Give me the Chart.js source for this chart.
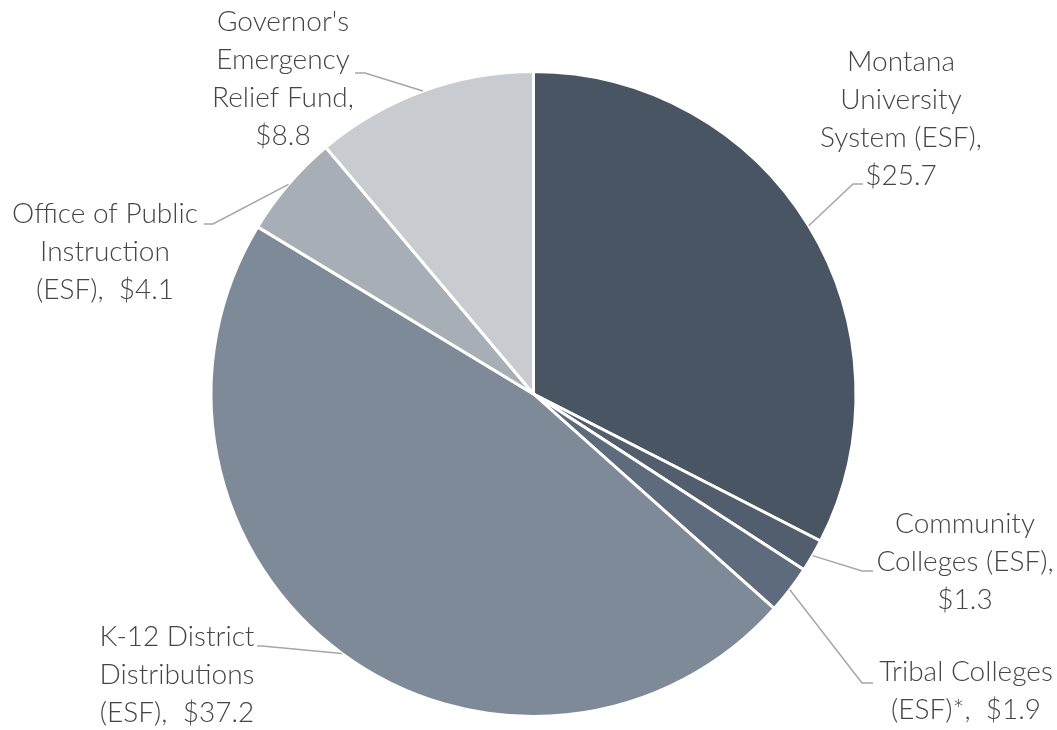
<!DOCTYPE html>
<html>
<head>
<meta charset="utf-8">
<script src="https://cdn.jsdelivr.net/npm/chart.js@4/dist/chart.umd.min.js"></script>
<style>
  html, body { margin: 0; padding: 0; background: #fff; }
  #wrap { width: 1057px; height: 730px; position: relative; }
</style>
</head>
<body>
<div id="wrap"><canvas id="myChart"></canvas></div>
<script>
// data ($ millions)
const categories = ['Montana University System (ESF)', 'Community Colleges (ESF)', 'Tribal Colleges (ESF)*', 'K-12 District Distributions (ESF)', 'Office of Public Instruction (ESF)', "Governor's Emergency Relief Fund"]
const amounts = [25.7, 1.3, 1.9, 37.2, 4.1, 8.8]
// how each label is broken into lines, as in the picture
const labelLines = [
  ['Montana', 'University', 'System (ESF),', '$25.7'],
  ['Community', 'Colleges (ESF),', '$1.3'],
  ['Tribal Colleges', '(ESF)*,  $1.9'],
  ['K-12 District', 'Distributions', '(ESF),  $37.2'],
  ['Office of Public', 'Instruction', '(ESF),  $4.1'],
  ["Governor's", 'Emergency', 'Relief Fund,', '$8.8']
]
const sliceColors = ['#4a5564', '#525e6e', '#5d6b7d', '#7f8a98', '#a8aeb6', '#c8cbd0']

// label block centres and leader elbows (layout only)
const labelPlaces = [
  { x: 901, y: 62, elbow: [853, 184], end: [863, 184] },
  { x: 965, y: 524, elbow: [862, 571], end: [873, 571] },
  { x: 966, y: 672, elbow: [862, 683], end: [873, 683] },
  { x: 177, y: 637, elbow: [262, 646], end: [257, 646] },
  { x: 105, y: 214, elbow: [213, 224], end: [204, 224] },
  { x: 283, y: 22, elbow: [365, 73], end: [355, 73] }
]
const lineGap = 38

const outsideLabels = {
  id: 'outsideLabels',
  afterDraw(chart) {
    const ctx = chart.ctx
    const arcs = chart.getDatasetMeta(0).data
    ctx.save()
    arcs.forEach((arc, i) => {
      const p = labelPlaces[i]
      const mid = (arc.startAngle + arc.endAngle) / 2
      const sx = arc.x + Math.cos(mid) * arc.outerRadius
      const sy = arc.y + Math.sin(mid) * arc.outerRadius
      ctx.strokeStyle = '#a6a6a6'
      ctx.lineWidth = 1.5
      ctx.beginPath()
      ctx.moveTo(sx, sy)
      ctx.lineTo(p.elbow[0], p.elbow[1])
      ctx.lineTo(p.end[0], p.end[1])
      ctx.stroke()

      ctx.fillStyle = '#454545'
      ctx.font = '300 28px Lato'
      ctx.textAlign = 'center'
      ctx.textBaseline = 'middle'
      labelLines[i].forEach((t, j) => {
        ctx.fillText(t, p.x, p.y + j * lineGap)
      })
    })
    ctx.restore()
  }
}

const data = {
  labels: categories,
  datasets: [{
    data: amounts,
    backgroundColor: sliceColors,
    borderColor: '#ffffff',
    borderWidth: 3
  }]
}

const config = {
  type: 'pie',
  data: data,
  options: {
    responsive: true,
    maintainAspectRatio: false,
    animation: false,
    layout: { padding: { top: 70, bottom: 12, left: 209, right: 199 } },
    plugins: {
      legend: { display: false },
      tooltip: { enabled: false }
    }
  },
  plugins: [outsideLabels]
}

const myChart = new Chart(document.getElementById('myChart'), config)
</script>
</body>
</html>
